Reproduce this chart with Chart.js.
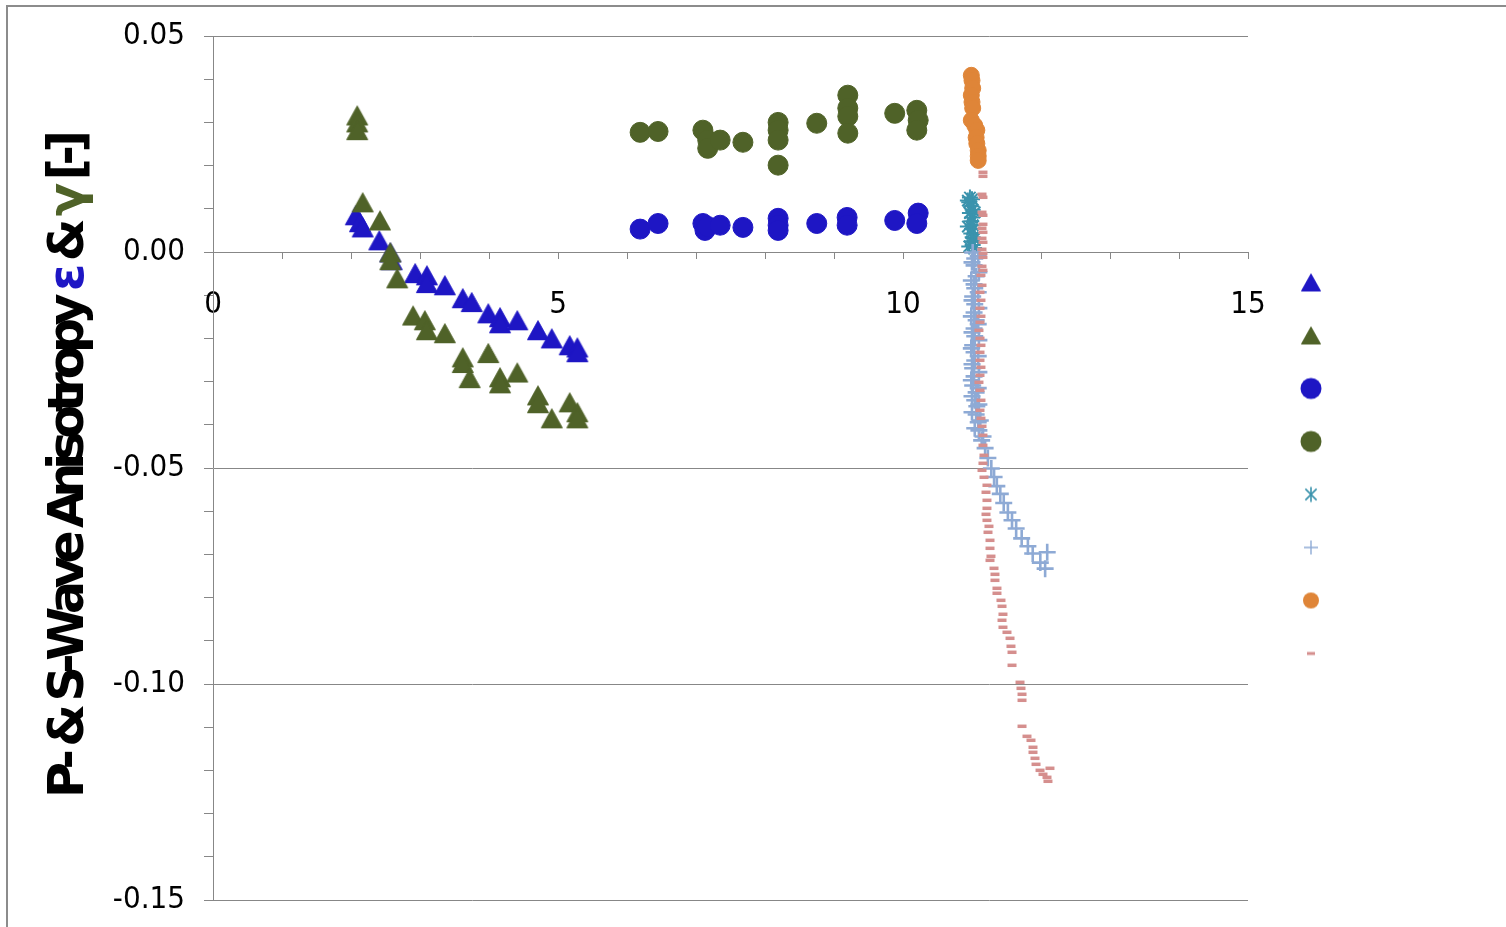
<!DOCTYPE html>
<html>
<head>
<meta charset="utf-8">
<script src="https://cdn.jsdelivr.net/npm/chart.js@4/dist/chart.umd.min.js"></script>
<style>
html,body{margin:0;padding:0;background:#fff;overflow:hidden}
#wrap{position:relative;width:1506px;height:927px}
</style>
</head>
<body>
<div id="wrap"><canvas id="c" width="1506" height="927"></canvas></div>
<script>
// ---------- tick labels ----------
const xTickLabels = ['0', '5', '10', '15'];
const yTickLabels = ['0.05', '0.00', '-0.05', '-0.10', '-0.15'];

// ---------- series (x, y) ----------
const epsTriX = [2.07,2.13,2.17,2.41,2.57,2.59,2.93,3.10,3.10,3.36,3.62,3.75,3.99,4.16,4.16,4.41,4.71,4.91,5.17,5.28,5.28];
const epsTriY = [0.0085,0.0069,0.0057,0.0027,-0.0001,-0.0019,-0.0049,-0.0054,-0.0072,-0.0077,-0.0107,-0.0116,-0.0142,-0.0151,-0.0165,-0.0158,-0.0181,-0.0200,-0.0216,-0.0221,-0.0232];

const gamTriX = [2.09,2.09,2.09,2.17,2.42,2.57,2.57,2.67,2.90,3.07,3.10,3.36,3.62,3.62,3.72,3.99,4.16,4.16,4.41,4.71,4.71,4.91,5.17,5.28,5.28];
const gamTriY = [0.0316,0.0300,0.0282,0.0115,0.0073,-0.0001,-0.0019,-0.0061,-0.0147,-0.0158,-0.0181,-0.0188,-0.0244,-0.0257,-0.0292,-0.0234,-0.0290,-0.0304,-0.0279,-0.0332,-0.0350,-0.0385,-0.0348,-0.0371,-0.0385];

const epsCircX = [6.19,6.45,7.10,7.13,7.17,7.35,7.68,8.19,8.19,8.19,8.75,9.19,9.19,9.88,10.22,10.20];
const epsCircY = [0.0053,0.0066,0.0066,0.0050,0.0059,0.0062,0.0057,0.0078,0.0062,0.0050,0.0066,0.0080,0.0062,0.0073,0.0090,0.0066];

const gamCircX = [6.19,6.45,7.10,7.17,7.17,7.35,7.68,8.19,8.19,8.19,8.19,8.75,9.20,9.20,9.20,9.20,9.88,10.20,10.22,10.20];
const gamCircY = [0.0277,0.0279,0.0282,0.0259,0.0240,0.0259,0.0254,0.0300,0.0282,0.0259,0.0201,0.0298,0.0363,0.0333,0.0314,0.0275,0.0321,0.0328,0.0305,0.0282];

const starX = [10.97,11.00,10.96,10.94,10.99,11.01,10.97,11.04,11.00,10.99,10.94,11.01,11.00,10.99,11.01,11.04,11.00,10.96,11.01,11.03];
const starY = [0.0126,0.0122,0.0115,0.0119,0.0106,0.0098,0.0090,0.0092,0.0080,0.0071,0.0059,0.0062,0.0053,0.0043,0.0034,0.0032,0.0025,0.0013,0.0016,0.0009];

const plusX = [11.01,11.09,11.04,11.00,11.03,11.10,11.06,10.99,11.03,11.04,11.09,11.01,11.00,11.04,11.10,11.03,10.99,11.06,11.09,11.03,11.00,11.04,11.10,11.01,10.99,11.03,11.09,11.04,11.00,11.01,11.10,11.03,10.99,11.01,11.09,11.06,11.00,11.04,11.10,11.07,11.00,11.06,11.12,11.09,11.04,11.10,11.16,11.14,11.19,11.23,11.28,11.32,11.36,11.41,11.46,11.52,11.58,11.64,11.72,11.81,11.88,11.99,12.06,12.09];
const plusY = [-0.0001,-0.0010,-0.0015,-0.0024,-0.0031,-0.0047,-0.0056,-0.0066,-0.0075,-0.0084,-0.0093,-0.0103,-0.0112,-0.0121,-0.0130,-0.0140,-0.0149,-0.0158,-0.0167,-0.0177,-0.0186,-0.0195,-0.0204,-0.0216,-0.0223,-0.0232,-0.0241,-0.0251,-0.0260,-0.0269,-0.0278,-0.0288,-0.0297,-0.0309,-0.0315,-0.0325,-0.0334,-0.0343,-0.0353,-0.0357,-0.0371,-0.0376,-0.0390,-0.0394,-0.0408,-0.0413,-0.0427,-0.0436,-0.0454,-0.0477,-0.0501,-0.0521,-0.0542,-0.0560,-0.0581,-0.0603,-0.0621,-0.0640,-0.0663,-0.0681,-0.0698,-0.0719,-0.0733,-0.0695];

const orangeX = [10.99,11.00,11.01,10.99,11.00,11.01,10.99,11.04,11.07,11.06,11.07,11.09,11.09,11.09];
const orangeY = [0.0409,0.0397,0.0379,0.0363,0.0347,0.0333,0.0305,0.0293,0.0282,0.0265,0.0251,0.0235,0.0222,0.0212];

const dashX = [11.159,11.159,11.145,11.159,11.145,11.159,11.159,11.145,11.159,11.145,11.159,11.145,11.159,11.159,11.145,11.159,11.130,11.145,11.116,11.130,11.116,11.130,11.116,11.101,11.116,11.130,11.116,11.116,11.130,11.116,11.101,11.116,11.130,11.116,11.130,11.145,11.159,11.159,11.174,11.159,11.145,11.174,11.217,11.203,11.217,11.217,11.203,11.217,11.246,11.232,11.261,11.261,11.275,11.261,11.319,11.333,11.333,11.362,11.362,11.420,11.435,11.449,11.435,11.449,11.507,11.551,11.565,11.580,11.580,11.696,11.710,11.725,11.725,11.725,11.797,11.855,11.884,11.884,11.913,11.928,11.986,12.029,12.087,12.101,12.130];
const dashY = [0.01845,0.01752,0.01336,0.01266,0.00919,0.00850,0.00641,0.00549,0.00456,0.00317,0.00225,0.00063,-0.00030,-0.00123,-0.00331,-0.00424,-0.00539,-0.00771,-0.00933,-0.01118,-0.01303,-0.01488,-0.01627,-0.01813,-0.01998,-0.02160,-0.02322,-0.02507,-0.02669,-0.02854,-0.03016,-0.03201,-0.03433,-0.03664,-0.03850,-0.04035,-0.04243,-0.04475,-0.04706,-0.04891,-0.05053,-0.05215,-0.05400,-0.05562,-0.05748,-0.05933,-0.06072,-0.06211,-0.06350,-0.06488,-0.06674,-0.06859,-0.07044,-0.07137,-0.07322,-0.07461,-0.07600,-0.07785,-0.07900,-0.08063,-0.08201,-0.08386,-0.08525,-0.08687,-0.08803,-0.08942,-0.09127,-0.09266,-0.09567,-0.09961,-0.10100,-0.10238,-0.10377,-0.10979,-0.11211,-0.11303,-0.11465,-0.11581,-0.11720,-0.11859,-0.11998,-0.12090,-0.12160,-0.12252,-0.11951];

// ---------- colours ----------
const BLUE = '#1e16c4', GREEN = '#4f6228', TEAL = '#3b93ad', LBLUE = '#8eaad5', ORANGE = '#df8538', PINK = '#d58f8e';
const AXIS = '#878787';

const pts = (xs, ys) => xs.map((x, i) => ({x: x, y: ys[i]}));

function makeIcon(kind, color, r, lw, hh) {
  const c = document.createElement('canvas');
  c.width = 30; c.height = 30;
  const g = c.getContext('2d');
  const cx = 15, cy = 15;
  g.fillStyle = color; g.strokeStyle = color; g.lineWidth = lw || 1;
  if (kind === 'triangle') {
    // r = half width, hh = half height
    g.beginPath();
    g.moveTo(cx, cy - hh);
    g.lineTo(cx + r, cy + hh);
    g.lineTo(cx - r, cy + hh);
    g.closePath(); g.fill(); g.stroke();
  } else if (kind === 'circle') {
    g.beginPath(); g.arc(cx, cy, r, 0, Math.PI * 2); g.fill();
  } else if (kind === 'star') {
    g.beginPath();
    g.moveTo(cx, cy - r); g.lineTo(cx, cy + r);
    const d = r * 0.75;
    g.moveTo(cx - d, cy - d); g.lineTo(cx + d, cy + d);
    g.moveTo(cx - d, cy + d); g.lineTo(cx + d, cy - d);
    g.stroke();
  } else if (kind === 'cross') {
    g.beginPath();
    g.moveTo(cx, cy - r); g.lineTo(cx, cy + r);
    g.moveTo(cx - r, cy); g.lineTo(cx + r, cy);
    g.stroke();
  } else if (kind === 'line') {
    g.beginPath();
    g.moveTo(cx - r, cy); g.lineTo(cx + r, cy); g.stroke();
  }
  return c;
}

const triBlue = makeIcon('triangle', BLUE, 10.5, 1, 9.5);
const triGreen = makeIcon('triangle', GREEN, 10.5, 1, 9.5);

const legendIcons = [
  makeIcon('triangle', BLUE, 9.5, 1, 8.5),
  makeIcon('triangle', GREEN, 9.5, 1, 8.5),
  makeIcon('circle', BLUE, 10.5),
  makeIcon('circle', GREEN, 10.5),
  makeIcon('star', TEAL, 7.5, 1.6),
  makeIcon('cross', LBLUE, 7, 1.4),
  makeIcon('circle', ORANGE, 8),
  makeIcon('line', PINK, 4, 3)
];

function series(label, data, color, style, radius, bw, idx) {
  return {
    label: label, data: data, showLine: false,
    pointStyle: style, pointRadius: radius, pointHoverRadius: radius,
    backgroundColor: color, borderColor: color, pointBorderWidth: bw,
    order: 20 - idx
  };
}

const datasets = [
  series('P-wave anisotropy ε', pts(epsTriX, epsTriY), BLUE, triBlue, 11, 1, 0),
  series('S-wave anisotropy γ', pts(gamTriX, gamTriY), GREEN, triGreen, 11, 1, 1),
  series('P-wave anisotropy ε (2)', pts(epsCircX, epsCircY), BLUE, 'circle', 10, 1, 2),
  series('S-wave anisotropy γ (2)', pts(gamCircX, gamCircY), GREEN, 'circle', 10, 1, 3),
  series('Series 5', pts(starX, starY), TEAL, 'star', 8, 2, 4),
  series('Series 6', pts(plusX, plusY), LBLUE, 'cross', 8.5, 2.6, 5),
  series('Series 7', pts(orangeX, orangeY), ORANGE, 'circle', 8, 1, 6),
  series('Series 8', pts(dashX, dashY), PINK, 'line', 4.5, 3.5, 7)
];

const TICK_FONT = {family: '"DejaVu Sans Condensed", "DejaVu Sans", sans-serif', size: 31};

const frame = {
  id: 'frame',
  beforeDraw(chart) {
    const ctx = chart.ctx;
    ctx.save();
    ctx.strokeStyle = '#8c8c8c'; ctx.lineWidth = 2;
    ctx.beginPath();
    ctx.moveTo(7, 927); ctx.lineTo(7, 6); ctx.lineTo(1506, 6);
    ctx.stroke();
    ctx.restore();
  }
};

const titleParts = [['P- & S-Wave Anisotropy ', '#000000'], ['ε', BLUE], [' & ', '#000000'], ['γ', GREEN], [' [-]', '#000000']];
const yTitle = {
  id: 'yTitle',
  afterDraw(chart) {
    const ctx = chart.ctx;
    ctx.save();
    ctx.font = 'bold 49px "DejaVu Sans", sans-serif';
    ctx.textBaseline = 'alphabetic';
    ctx.textAlign = 'left';
    const chars = [];
    titleParts.forEach(([t, col]) => { for (const ch of t) chars.push([ch, col]); });
    let sum = 0;
    chars.forEach(c => { c.push(ctx.measureText(c[0]).width); sum += c[2]; });
    const target = 668;
    const sp = (target - sum) / (chars.length - 1);
    ctx.translate(83, 798);
    ctx.rotate(-Math.PI / 2);
    let x = 0;
    chars.forEach(([ch, col, w]) => {
      ctx.fillStyle = col;
      ctx.fillText(ch, x, 0);
      x += w + sp;
    });
    ctx.restore();
  }
};

new Chart(document.getElementById('c'), {
  type: 'scatter',
  data: {datasets: datasets},
  options: {
    responsive: false,
    animation: false,
    devicePixelRatio: 1,
    layout: {padding: {left: 0, top: 36, right: 169, bottom: 27}},
    plugins: {
      tooltip: {enabled: false},
      legend: {
        position: 'right',
        align: 'center',
        labels: {
          usePointStyle: true,
          font: {size: 16},
          padding: 37,
          sort: (a, b) => a.datasetIndex - b.datasetIndex,
          generateLabels: (chart) => chart.data.datasets.map((d, i) => ({
            text: '', datasetIndex: i, pointStyle: legendIcons[i],
            fillStyle: d.backgroundColor, strokeStyle: d.borderColor, lineWidth: 0, hidden: false
          }))
        }
      }
    },
    scales: {
      x: {
        type: 'linear', min: 0, max: 15,
        position: {y: 0},
        ticks: {
          stepSize: 1, autoSkip: false, maxRotation: 0, padding: 28,
          font: TICK_FONT, color: '#000',
          callback: (v) => (v % 5 === 0 ? xTickLabels[v / 5] : '')
        },
        grid: {drawOnChartArea: false, drawTicks: true, tickLength: 6, tickColor: AXIS, tickWidth: 1},
        border: {color: AXIS, width: 1}
      },
      y: {
        type: 'linear', min: -0.15, max: 0.05, position: 'left',
        ticks: {
          stepSize: 0.01, autoSkip: false, padding: 19,
          font: TICK_FONT, color: '#000',
          callback: (v) => {
            const k = Math.round(v * 100);
            return k % 5 === 0 ? yTickLabels[(5 - k) / 5] : '';
          }
        },
        grid: {
          color: (c) => (Math.round(c.tick.value * 100) % 5 === 0 ? AXIS : 'rgba(0,0,0,0)'),
          tickColor: AXIS, tickLength: 9, lineWidth: 1
        },
        border: {color: AXIS, width: 1},
        afterFit: (s) => { s.width = 213; s.paddingTop = 0; s.paddingBottom = 0; }
      },
      yR: {
        type: 'linear', position: 'right', display: true,
        grid: {display: false}, ticks: {display: false}, border: {display: false},
        afterFit: (s) => { s.width = 18; s.paddingTop = 0; s.paddingBottom = 0; }
      }
    }
  },
  plugins: [frame, yTitle]
});
</script>
</body>
</html>
